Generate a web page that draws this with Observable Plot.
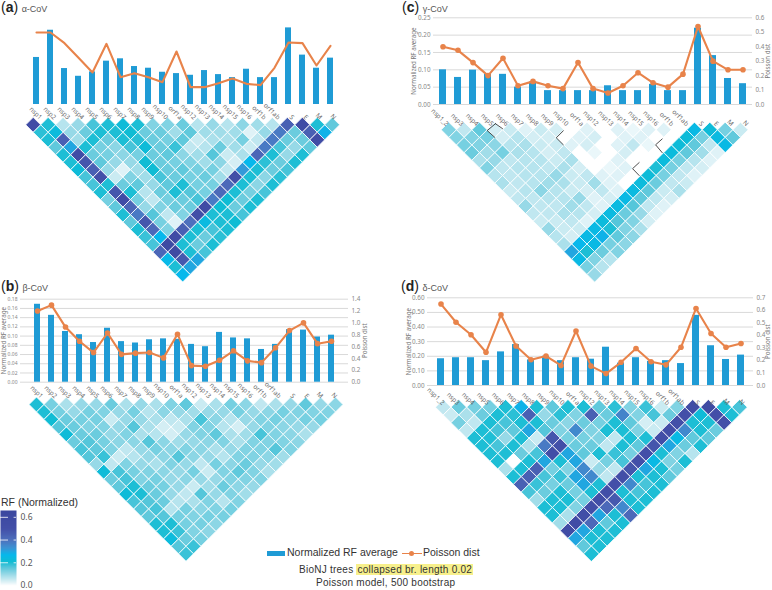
<!DOCTYPE html>
<html><head><meta charset="utf-8">
<script src="https://cdn.jsdelivr.net/npm/d3@7"></script>
<script src="https://cdn.jsdelivr.net/npm/@observablehq/plot@0.6"></script>
<style>
html,body{margin:0;padding:0;background:#fff;}
#page{position:relative;width:772px;height:590px;overflow:hidden;font-family:"Liberation Sans",Arial,sans-serif;}
#page svg{position:absolute;background:transparent;overflow:visible;}
.t{position:absolute;white-space:nowrap;}
.lab b{font-size:14px;color:#222;}
.lab{font-size:14px;line-height:14px;color:#222;}
.lab span{font-size:9px;color:#555;margin-left:1px;}
</style></head><body><div id="page"></div>
<script>
const genes22 = ["nsp1","nsp2","nsp3","nsp4","nsp5","nsp6","nsp7","nsp8","nsp9","nsp10","orf1a","nsp12","nsp13","nsp14","nsp15","nsp16","orf1b","orf1ab","S","E","M","N"];
const genes21 = ["nsp1_2","nsp3","nsp4","nsp5","nsp6","nsp7","nsp8","nsp9","nsp10","orf1a","nsp12","nsp13","nsp14","nsp15","nsp16","orf1b","orf1ab","S","E","M","N"];

const rfAlpha = [.14,.221,.107,.084,.097,.129,.136,.113,.108,.096,.092,.087,.101,.089,.08,.105,.08,.08,.228,.147,.108,.138];
const poissonAlpha = [.432,.432,.368,.28,.192,.364,.164,.188,.164,.134,.318,.104,.104,.128,.156,.124,.116,.22,.372,.368,.234,.352];
const rfBeta = [.169,.145,.11,.103,.086,.117,.088,.085,.092,.094,.093,.082,.077,.108,.096,.094,.071,.082,.114,.113,.098,.102];
const poissonBeta = [1.2,1.3,.93,.69,.5,.83,.47,.49,.5,.41,.81,.28,.27,.37,.53,.36,.33,.58,.87,1.0,.65,.69];
const rfGamma = [.10,.078,.099,.087,.087,.05,.065,.04,.04,.04,.04,.054,.04,.04,.058,.04,.04,.22,.141,.075,.06];
const poissonGamma = [.40,.375,.29,.2,.32,.13,.16,.13,.11,.29,.11,.08,.13,.22,.15,.12,.21,.54,.3,.24,.24];
const rfDelta = [.183,.19,.19,.17,.23,.28,.175,.2,.17,.19,.18,.262,.153,.19,.165,.17,.15,.48,.272,.178,.208];
const poissonDelta = [.65,.505,.405,.265,.565,.315,.205,.235,.16,.435,.155,.095,.185,.295,.19,.165,.305,.615,.415,.305,.335];

// pairwise RF x100; each row is one distance between genes
const heatAlpha = [
[55,20,7,10,17,20,22,20,12,12,14,7,10,7,11,9,7,45,55,20,15],
[19,23,10,14,20,20,21,14,14,9,15,9,9,9,3,10,38,14,45,28],
[20,45,9,20,14,20,19,14,13,15,5,8,8,13,6,38,14,14,55],
[15,30,20,13,11,17,22,14,18,6,7,14,9,5,38,17,10,15],
[20,55,14,13,11,13,14,15,11,9,16,5,8,43,20,10,20],
[20,48,15,10,10,21,14,13,12,9,11,4,27,19,14,20],
[22,45,10,3,9,21,14,15,13,13,6,32,20,14,17],
[17,50,5,12,9,17,14,13,14,9,52,20,11,19],
[17,20,14,15,10,15,20,13,13,42,20,11,20],
[20,48,20,7,14,20,16,13,42,20,13,17],
[13,55,13,6,13,14,17,38,21,14,20],
[15,43,10,12,14,14,55,21,14,20],
[20,38,16,6,12,52,20,20,17],
[15,48,13,3,40,24,20,21],
[20,42,12,45,20,17,20],
[18,27,55,20,14,19],
[17,60,20,14,20],
[43,58,20,17],
[26,47,30],
[20,30],
[27]];
const heatBeta = [
[20,13,8,10,10,14,8,10,8,12,15,5,8,13,11,6,8,10,15,10,11],
[20,13,10,13,12,10,13,7,11,10,9,10,10,13,10,11,13,12,12,12],
[21,14,13,13,5,10,10,8,6,8,17,11,7,10,12,13,11,13,13],
[16,14,12,12,10,16,8,4,5,12,12,7,4,10,12,11,10,10],
[22,14,14,10,12,8,7,4,10,12,15,8,9,17,12,11,8],
[14,16,13,11,11,16,11,9,10,11,12,8,12,12,12,11],
[17,15,12,6,10,13,11,12,11,8,10,12,12,16,12],
[16,18,5,7,10,11,16,11,10,7,12,12,11,9],
[10,6,12,10,8,12,10,6,13,11,14,10,9],
[22,17,13,12,11,10,13,5,12,15,12,8],
[14,17,12,13,10,11,10,10,12,12,12],
[15,20,14,13,10,5,9,14,11,10],
[22,20,14,10,6,16,10,12,9],
[17,16,14,7,8,12,7,12],
[16,17,7,13,11,12,13],
[15,16,13,12,13,13],
[20,20,13,13,11],
[20,18,12,11],
[23,14,13],
[16,18],
[18]];
const heatGamma = [
[12,6,15,4,5,3,5,4,0,3,0,3,2,3,3,0,25,22,13,5],
[12,12,13,4,7,4,4,0,3,4,0,3,3,0,0,22,13,24,15],
[13,12,11,7,8,5,5,3,4,0,3,6,2,0,22,15,6,25],
[14,9,13,8,7,4,6,0,2,0,4,0,0,23,15,9,3],
[8,10,6,7,7,5,8,0,0,3,0,0,23,13,7,3],
[12,6,7,7,6,8,4,0,2,3,0,20,13,6,4],
[7,6,7,7,10,5,6,3,3,0,22,13,6,3],
[8,6,7,9,8,5,9,3,0,23,14,6,5],
[5,7,11,7,5,4,6,3,24,15,5,8],
[6,6,7,7,10,3,4,25,15,6,4],
[10,6,6,9,6,3,24,16,6,3],
[6,6,8,7,4,24,14,10,3],
[5,5,6,3,23,16,12,4],
[10,5,5,25,20,12,8],
[7,4,25,28,15,11],
[8,27,25,13,11],
[30,20,14,12],
[25,12,7],
[13,7],
[10]];
const heatDelta = [
[6,14,13,13,20,28,20,15,20,20,15,19,12,18,5,12,55,58,20,17],
[5,8,14,20,19,45,10,19,12,45,14,36,12,17,14,50,22,50,20],
[13,6,20,17,20,20,14,11,14,13,20,15,4,5,50,20,20,50],
[6,20,17,15,30,16,12,35,12,20,20,12,5,52,35,20,14],
[20,20,10,20,5,48,13,13,12,6,20,20,52,25,15,15],
[20,17,20,8,38,50,14,14,6,20,15,48,30,14,20],
[20,20,14,17,52,30,15,20,18,13,50,20,12,7],
[20,0,20,30,20,30,5,13,17,50,25,12,20],
[8,20,45,13,12,35,10,6,48,30,20,13],
[20,45,17,18,30,35,6,52,20,20,15],
[45,18,13,14,30,20,50,35,17,20],
[17,14,20,13,20,52,20,17,20],
[9,20,20,13,52,47,20,20],
[20,20,12,52,42,35,20],
[20,8,52,30,20,42],
[9,55,42,15,20],
[55,30,20,20],
[30,20,20],
[15,20],
[20]];

const calloutsGamma = [
 [[3.04,-.8],[2.5,.1],[3,1]], [[3.04,-.8],[3.5,-.15]],
 [[7.46,.13],[7,1.05],[7.46,1.97]],
 [[13.9,1.2],[13.47,1.97],[13.9,3]],
 [[12.4,4.3],[11.97,5.1],[12.4,6]]
];

const colorDomain = [0,.04,.1,.16,.21,.27,.33,.4,.5,.65];
const colorRange = ["#ffffff","#d4eef4","#97d9e7","#55c6da","#0fbcd4","#06b8ec","#3c93d4","#4e70bd","#434fa8","#3b479f"];
const colorScale = {type:"linear",domain:colorDomain,range:colorRange,clamp:true};

const page = document.getElementById("page");
const H = 285, W = 386;
function place(svg,left,top){svg.style.left=left+"px";svg.style.top=top+"px";page.appendChild(svg);}

function drawHeat(rows,g,left,top,callouts){
  const N = rows.length;
  const cells = rows.flatMap((row,k)=>row.map((v,n)=>({col:k/2+n,row:k,v:v/100})));
  const marks = [Plot.dot(cells,{x:"col",y:"row",fill:"v",r:g.r,symbol:"diamond2",stroke:"#fff",strokeWidth:.8})];
  if(callouts) callouts.forEach(c=>marks.push(Plot.line(c,{x:d=>d[0],y:d=>d[1],stroke:"#222",strokeWidth:.8})));
  place(Plot.plot({width:W,height:H,margin:0,
    x:{type:"linear",domain:[0,N-1],range:[g.x0-left,g.x1-left],axis:null},
    y:{type:"linear",domain:[0,N-1],range:[g.y0-top,g.y1-top],axis:null},
    color:colorScale,marks}),left,top);
}

function drawChart(names,rf,pois,g,left,top){
  const step=(g.cN-g.c0)/(names.length-1), p=.56;
  const start=g.c0-step*(.5+p/2)-left, end=start+step*(names.length+p);
  const xs={type:"band",domain:names,range:[start,end],padding:p,axis:null};
  const rfData=names.map((n,i)=>({n,v:rf[i]})), pData=names.map((n,i)=>({n,v:pois[i]}));
  const base={width:W,height:H,marginTop:g.top-top,marginBottom:H-(g.base-top),marginLeft:g.gl-left,marginRight:W-(g.gr-left)};
  const lm=[], rm=[];
  if(g.ticksL){
    lm.push(Plot.gridY(g.ticksL,{stroke:"#d9d9d9",strokeOpacity:1,strokeWidth:1}));
    lm.push(Plot.axisY({anchor:"left",ticks:g.ticksL,tickSize:0,tickPadding:3,tickFormat:d3.format(".2f"),label:null,fontSize:g.tf,fill:"#888"}));
    lm.push(Plot.text(["Normalized RF average"],{frameAnchor:"left",textAnchor:"middle",rotate:-90,dx:g.tl-g.gl,fontSize:6.2,fill:"#777"}));
    rm.push(Plot.axisY({anchor:"right",ticks:g.ticksR,tickSize:0,tickPadding:3,tickFormat:d3.format(".1f"),label:null,fontSize:6.3,fill:"#888"}));
    rm.push(Plot.text(["Poisson dist"],{frameAnchor:"right",textAnchor:"middle",rotate:-90,dx:g.tr-g.gr,fontSize:6.2,fill:"#777"}));
  }
  lm.push(Plot.barY(rfData,{x:"n",y:"v",fill:"#1f9bd5"}));
  lm.push(Plot.text(names,{x:d=>d,frameAnchor:"bottom",rotate:45,textAnchor:"end",dx:g.lx,dy:g.ld,fontSize:6.5,fill:"#666"}));
  place(Plot.plot({...base,x:xs,y:{domain:[0,g.maxL],range:[g.base-top,g.yTop-top],axis:null},marks:lm}),left,top);
  rm.push(Plot.lineY(pData,{x:"n",y:"v",stroke:"#e8834a",strokeWidth:2.1}));
  if(g.dots) rm.push(Plot.dot(pData,{x:"n",y:"v",fill:"#e8834a",r:2.8}));
  place(Plot.plot({...base,x:xs,y:{domain:[0,g.maxR],range:[g.base-top,g.yTop-top],axis:null},marks:rm}),left,top);
}

drawHeat(heatAlpha,{x0:32.7,x1:331.7,y0:124.3,y1:274,r:6.73},0,0);
drawHeat(heatBeta,{x0:36,x1:335,y0:404,y1:553.3,r:6.73},0,285);
drawHeat(heatGamma,{x0:448.3,x1:740,y0:129.3,y1:274,r:6.9},386,0,calloutsGamma);
drawHeat(heatDelta,{x0:442.7,x1:739,y0:406.7,y1:553.3,r:7.0},386,285);

drawChart(genes22,rfAlpha,poissonAlpha,{c0:27.3,cN:339,base:104,top:20,yTop:20,gl:20,gr:347,maxL:.25,maxR:.504,lx:3,ld:15.5},0,0);
drawChart(genes22,rfBeta,poissonBeta,{c0:28,cN:341,base:381.7,top:298.7,yTop:298.7,gl:20,gr:348,maxL:.18,maxR:1.4,lx:3,ld:16.5,dots:true,tf:5,
  ticksL:[0,.02,.04,.06,.08,.1,.12,.14,.16,.18],ticksR:[0,.2,.4,.6,.8,1,1.2,1.4],tl:3.5,tr:365},0,285);
drawChart(genes21,rfGamma,poissonGamma,{c0:440.7,cN:744.3,base:104,top:17.3,yTop:17.3,gl:433,gr:752,maxL:.25,maxR:.6,lx:3,ld:22,dots:true,tf:6.3,
  ticksL:[0,.05,.1,.15,.2,.25],ticksR:[0,.1,.2,.3,.4,.5,.6],tl:414,tr:768},386,0);
drawChart(genes21,rfDelta,poissonDelta,{c0:434,cN:746.7,base:385,top:297.3,yTop:297.3,gl:427,gr:753,maxL:.6,maxR:.7,lx:1,ld:20,dots:true,tf:6.3,
  ticksL:[0,.1,.2,.3,.4,.5,.6],ticksR:[0,.1,.2,.3,.4,.5,.6,.7],tl:409,tr:768},386,285);

// colour legend
const legendTicks=[0,.2,.4,.6];
place(Plot.plot({width:40,height:85,marginTop:5,marginBottom:5,marginLeft:0,marginRight:24,
  x:{domain:[0,1],axis:null},y:{domain:[0,.66],axis:null},color:colorScale,
  marks:[
   Plot.raster({x1:0,x2:1,y1:0,y2:.66,width:1,height:120,fill:(x,y)=>y,interpolate:"nearest"}),
   Plot.ruleY([.2,.4,.6],{x1:0,x2:.5,stroke:"#fff",strokeWidth:.8}),
   Plot.ruleY([.2,.4,.6],{x1:.85,x2:1,stroke:"#fff",strokeWidth:.8}),
   Plot.axisY({anchor:"right",ticks:legendTicks,tickSize:0,tickPadding:4,tickFormat:d3.format(".1f"),label:null,fontSize:8.5,fill:"#555"})
  ]}),0,505);

function text(html,left,top,style){const d=document.createElement("div");d.className="t";d.style.left=left+"px";d.style.top=top+"px";d.style.cssText+=";"+(style||"");d.innerHTML=html;page.appendChild(d);return d;}
text('(<b>a</b>)<span> α-CoV</span>',1,0,'').classList.add("lab");
text('(<b>b</b>)<span> β-CoV</span>',1,279,'').classList.add("lab");
text('(<b>c</b>)<span> γ-CoV</span>',402,0,'').classList.add("lab");
text('(<b>d</b>)<span> δ-CoV</span>',401,279,'').classList.add("lab");
text('RF (Normalized)',1,496,'font-size:10.5px;color:#333');

// bottom legend
text('',267,550.5,'width:18px;height:5px;background:#1f9bd5');
text('Normalized RF average',287,546,'font-size:10.5px;color:#333');
text('',402,552.5,'width:20px;height:1.6px;background:#e8834a');
text('',408.5,550.5,'width:5.6px;height:5.6px;border-radius:50%;background:#e8834a');
text('Poisson dist',423,546,'font-size:10.5px;color:#333');
text('BioNJ trees <span style="background:#f7f08c;padding:0 1px">collapsed br. length 0.02</span>',299,564,'font-size:10px;color:#333;letter-spacing:.25px');
text('Poisson model, 500 bootstrap',316,576.5,'font-size:10px;color:#333;letter-spacing:.25px');
</script></body></html>
